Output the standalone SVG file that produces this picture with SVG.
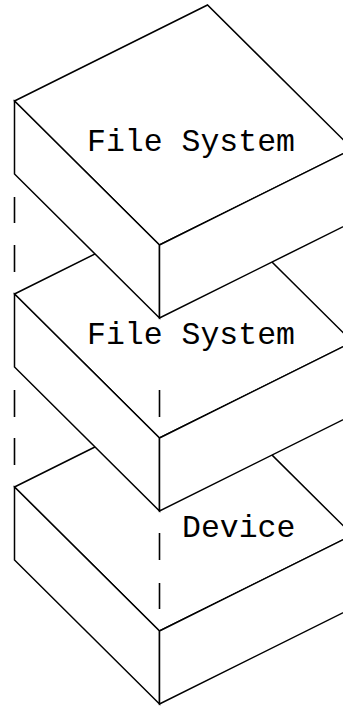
<svg xmlns="http://www.w3.org/2000/svg" width="343" height="706" viewBox="0 0 343 706">
  <style>
    .face { fill: #ffffff; stroke: #000000; stroke-width: 1.5; stroke-linejoin: miter; }
    .hidden { stroke: #000000; stroke-width: 1.6; fill: none; }
    .label { font-family: "Liberation Mono", "DejaVu Sans Mono", monospace; font-size: 31.5px; fill: #000000; }
  </style>
  <rect x="0" y="0" width="343" height="706" fill="#ffffff"/>

  <!-- Each slab: top face L-T-R-F, left face and front face, 73px deep.
       Drawn bottom-up so upper slabs cover the ones beneath. -->

  <g id="device">
    <polygon class="face" points="14.5,487 207.5,391 352.5,535 159.5,631"/>
    <polygon class="face" points="14.5,487 159.5,631 159.5,704 14.5,560"/>
    <polygon class="face" points="159.5,631 352.5,535 352.5,608 159.5,704"/>
    <text class="label" x="182" y="537">Device</text>
  </g>

  <g id="file-system-lower">
    <polygon class="face" points="14.5,294 207.5,198 352.5,342 159.5,438"/>
    <polygon class="face" points="14.5,294 159.5,438 159.5,511 14.5,367"/>
    <polygon class="face" points="159.5,438 352.5,342 352.5,415 159.5,511"/>
    <text class="label" x="87" y="344">File System</text>
  </g>

  <g id="file-system-upper">
    <polygon class="face" points="14.5,101 207.5,5 352.5,149 159.5,245"/>
    <polygon class="face" points="14.5,101 159.5,245 159.5,318 14.5,174"/>
    <polygon class="face" points="159.5,245 352.5,149 352.5,222 159.5,318"/>
    <text class="label" x="87" y="151">File System</text>
  </g>

  <!-- dashed hidden edges linking the slabs -->
  <g id="connectors">
    <line class="hidden" x1="14.5" y1="197" x2="14.5" y2="223"/>
    <line class="hidden" x1="14.5" y1="245" x2="14.5" y2="272"/>
    <line class="hidden" x1="14.5" y1="390" x2="14.5" y2="417"/>
    <line class="hidden" x1="14.5" y1="438" x2="14.5" y2="465"/>
    <line class="hidden" x1="159.5" y1="390" x2="159.5" y2="417"/>
    <line class="hidden" x1="159.5" y1="533" x2="159.5" y2="560"/>
    <line class="hidden" x1="159.5" y1="583" x2="159.5" y2="609"/>
  </g>
</svg>
